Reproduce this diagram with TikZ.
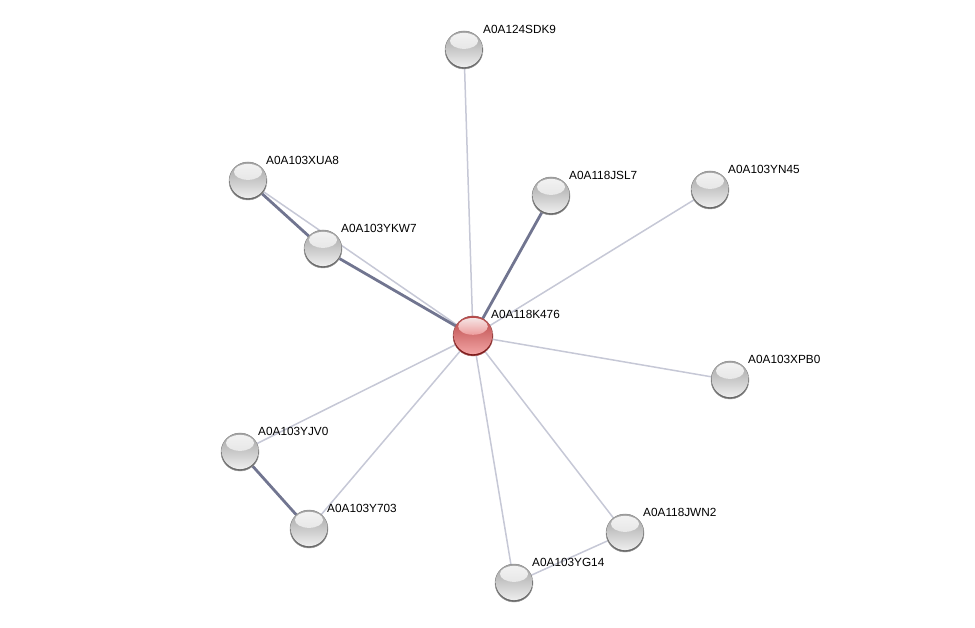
\documentclass[tikz,border=0pt]{standalone}
\usepackage{fontspec}
\setmainfont{Liberation Sans}
\usetikzlibrary{backgrounds,calc}
\definecolor{gtop}{HTML}{A0A0A0}
\definecolor{gbot}{HTML}{EEEEEE}
\definecolor{grim}{HTML}{6A6A6A}
\definecolor{rtop}{HTML}{B84444}
\definecolor{rbot}{HTML}{F2A4A4}
\definecolor{rrim}{HTML}{7E1A1A}
\definecolor{lightedge}{HTML}{C6C8D6}
\definecolor{darkedge}{HTML}{717590}
\tikzset{
  ball/.style n args={4}{circle, minimum size=#1, inner sep=0pt, draw=#4!70, line width=0.5pt,
    path picture={
      \fill[#4] (path picture bounding box.south west) rectangle (path picture bounding box.north east);
      \shade[top color=#2, bottom color=#3]
        ($(path picture bounding box.center)+(0pt,1.3pt)$) circle ({#1/2-0.6pt});
      \shade[top color=white, bottom color=#3, opacity=0.85]
        ($(path picture bounding box.center)+(0pt,0.48*#1/2)$) ellipse ({0.74*#1/2} and {0.42*#1/2});
    }},
  greyball/.style={ball={38pt}{gtop}{gbot}{grim}},
  redball/.style={ball={40pt}{rtop}{rbot}{rrim}},
  lab/.style={anchor=west, inner sep=0pt, font=\fontsize{11.8}{12}\selectfont},
  weak/.style={draw=lightedge, line width=1.5pt},
  strong/.style={draw=darkedge, line width=2.8pt},
}
\begin{document}
\begin{tikzpicture}[x=1pt,y=-1pt]
\useasboundingbox (0,0) rectangle (975,628);
\node[redball]  (c)    at (473,336) {};
\node[greyball] (sdk9) at (464,50) {};
\node[greyball] (xua8) at (248,181) {};
\node[greyball] (ykw7) at (323,249) {};
\node[greyball] (jsl7) at (551,196) {};
\node[greyball] (yn45) at (710,190) {};
\node[greyball] (xpb0) at (730,380) {};
\node[greyball] (yjv0) at (240,452) {};
\node[greyball] (y703) at (309,529) {};
\node[greyball] (jwn2) at (625,533) {};
\node[greyball] (yg14) at (514,583) {};

\node[lab] (lc)    at ([shift={(18,-22)}]c.center)    {A0A118K476};
\node[lab] (lsdk9) at ([shift={(19,-21)}]sdk9.center) {A0A124SDK9};
\node[lab] (lxua8) at ([shift={(18,-21)}]xua8.center) {A0A103XUA8};
\node[lab] (lykw7) at ([shift={(18,-21)}]ykw7.center) {A0A103YKW7};
\node[lab] (ljsl7) at ([shift={(18,-21)}]jsl7.center) {A0A118JSL7};
\node[lab] (lyn45) at ([shift={(18,-21)}]yn45.center) {A0A103YN45};
\node[lab] (lxpb0) at ([shift={(18,-21)}]xpb0.center) {A0A103XPB0};
\node[lab] (lyjv0) at ([shift={(18,-21)}]yjv0.center) {A0A103YJV0};
\node[lab] (ly703) at ([shift={(18,-21)}]y703.center) {A0A103Y703};
\node[lab] (ljwn2) at ([shift={(18,-21)}]jwn2.center) {A0A118JWN2};
\node[lab] (lyg14) at ([shift={(18,-21)}]yg14.center) {A0A103YG14};

\begin{scope}[on background layer]
  \draw[weak] (c.center) -- (sdk9.center);
  \draw[weak] (c.center) -- (xua8.center);
  \draw[strong] (c.center) -- (ykw7.center);
  \draw[strong] (xua8.center) -- (ykw7.center);
  \draw[strong] (c.center) -- (jsl7.center);
  \draw[weak] (c.center) -- (yn45.center);
  \draw[weak] (c.center) -- (xpb0.center);
  \draw[weak] (c.center) -- (yjv0.center);
  \draw[weak] (c.center) -- (y703.center);
  \draw[weak] (c.center) -- (jwn2.center);
  \draw[weak] (c.center) -- (yg14.center);
  \draw[strong] (yjv0.center) -- (y703.center);
  \draw[weak] (jwn2.center) -- (yg14.center);
\end{scope}
\end{tikzpicture}
\end{document}
